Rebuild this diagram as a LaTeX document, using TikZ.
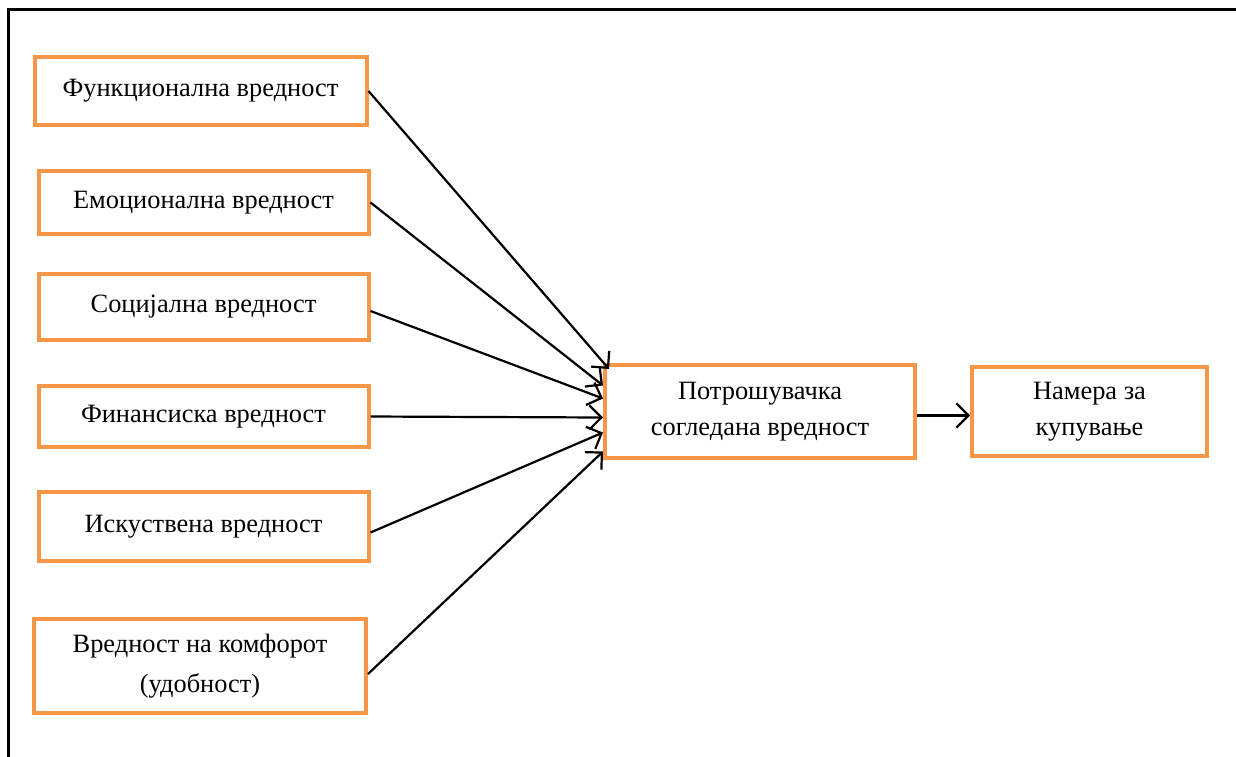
\documentclass[tikz,border=0pt]{standalone}
\usepackage{fontspec}
\setmainfont{Liberation Serif}
\usetikzlibrary{arrows.meta}
\definecolor{orangeline}{HTML}{F79646}
\tikzset{
  valbox/.style={draw=orangeline, line width=2pt, fill=white, inner sep=2pt,
    minimum width=165pt, align=center, font=\fontsize{13.2}{18}\selectfont},
  arr/.style={-{Straight Barb[length=6pt, width=12pt, line width=1.1pt]}, line width=1.1pt, draw=black}
}
\begin{document}
\begin{tikzpicture}[x=0.5pt,y=-0.5pt]
  \useasboundingbox (0,0) rectangle (1236,756);
  \clip (0,0) rectangle (1236,756);
  \draw[line width=1.5pt] (8,9) rectangle (1260,780);

  \node[valbox, minimum width=166pt, minimum height=34pt] (fun) at (200.5,91) {Функционална вредност};
  \node[valbox, minimum height=31.5pt] (emo) at (203.5,202.5) {Емоционална вредност};
  \node[valbox, minimum height=33pt] (soc) at (203.5,307) {Социјална вредност};
  \node[valbox, minimum height=30.5pt] (fin) at (203.5,416.5) {Финансиска вредност};
  \node[valbox, minimum height=34.5pt] (isk) at (203.5,526.5) {Искуствена вредност};
  \node[valbox, minimum width=166pt, minimum height=47pt, font=\fontsize{13.2}{20}\selectfont] (kom) at (200,666) {Вредност на комфорот\\(удобност)};

  \node[valbox, minimum width=155pt, minimum height=46.5pt] (cv) at (760,411.5) {Потрошувачка\\согледана вредност};
  \node[valbox, minimum width=117.5pt, minimum height=44.5pt] (nm) at (1089.5,411.5) {Намера за\\купување};

  % end points on the left side of the central box
  \coordinate (e1) at ([xshift=3pt,yshift=-3pt]cv.north west);
  \coordinate (e2) at ([yshift=13pt]cv.west);
  \coordinate (e3) at ([yshift=6.5pt]cv.west);
  \coordinate (e4) at ([yshift=-3pt]cv.west);
  \coordinate (e5) at ([yshift=-10.5pt]cv.west);
  \coordinate (e6) at ([yshift=-20pt]cv.west);

  \draw[arr] (fun.east) -- (e1);
  \draw[arr] (emo.east) -- (e2);
  \draw[arr] ([yshift=-2pt]soc.east) -- (e3);
  \draw[arr] (fin.east) -- (e4);
  \draw[arr] ([yshift=-3pt]isk.east) -- (e5);
  \draw[arr] ([yshift=-4pt]kom.east) -- (e6);
  \draw[arr] ([yshift=-2pt]cv.east) -- ([yshift=-2pt]nm.west);
\end{tikzpicture}
\end{document}
